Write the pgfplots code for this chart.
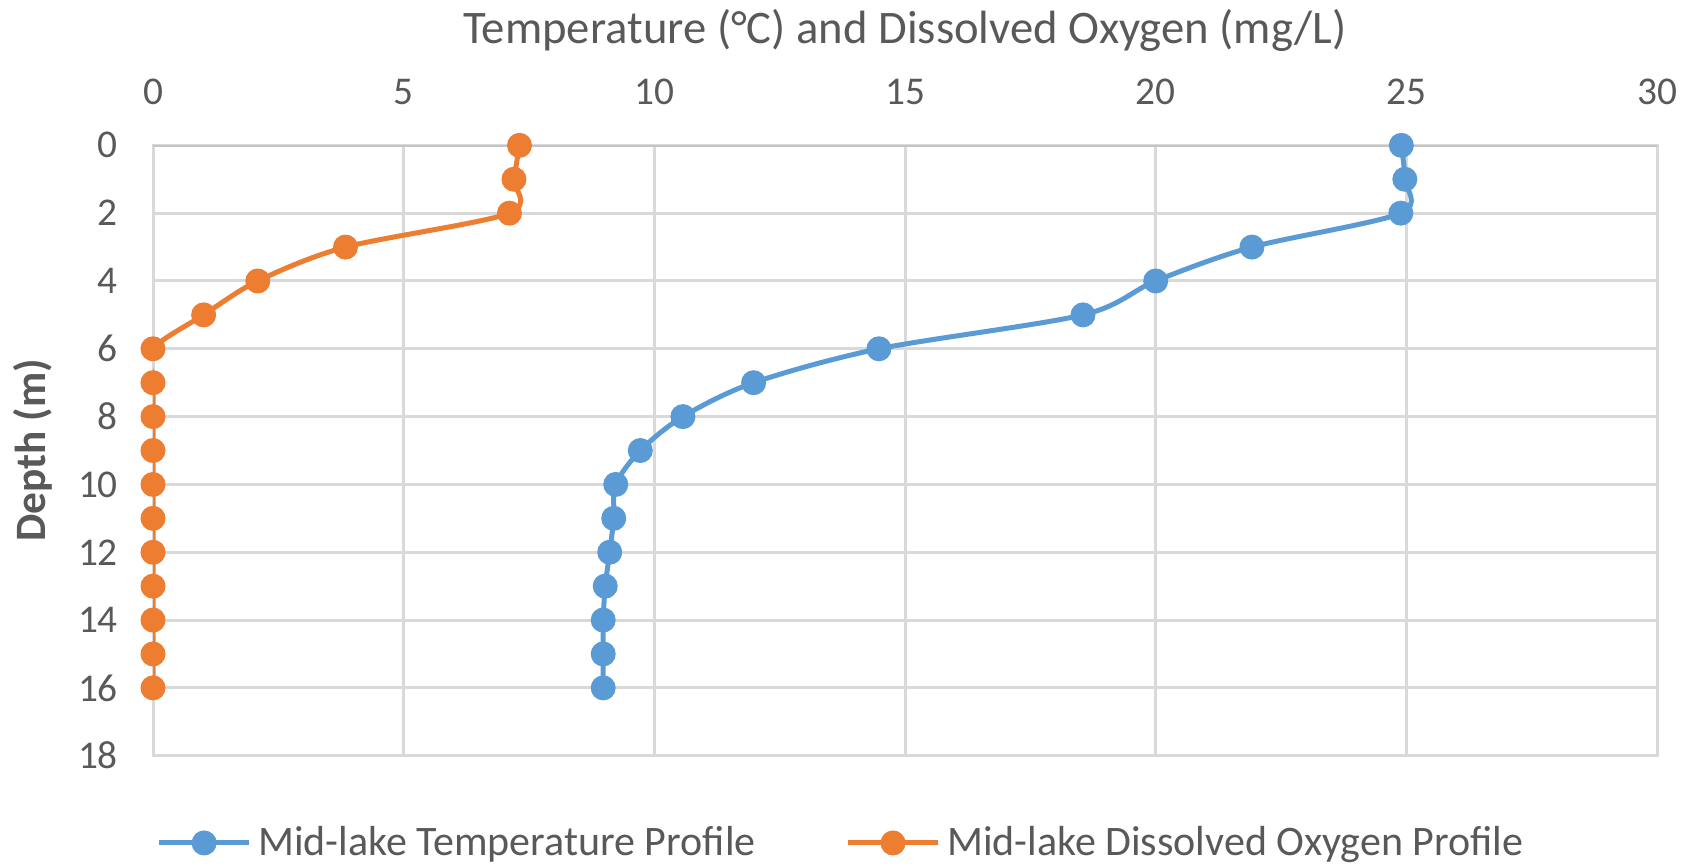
\documentclass[border=0pt]{standalone}
\usepackage{pgfplots}
\pgfplotsset{compat=1.18}
\usepackage{fontspec}
\setmainfont{Carlito}

\definecolor{tempblue}{HTML}{5B9BD5}
\definecolor{doorange}{HTML}{ED7D31}
\definecolor{txtgray}{HTML}{595959}
\definecolor{gridgray}{HTML}{D9D9D9}
\definecolor{axisgray}{HTML}{C4C4C4}

% Depth profile: depth (m), value
\pgfplotstableread{
depth temp
0  24.90
1  24.97
2  24.89
3  21.92
4  20.00
5  18.55
6  14.48
7  11.98
8  10.57
9  9.72
10 9.23
11 9.19
12 9.11
13 9.02
14 8.98
15 8.98
16 8.98
}\temptable

\pgfplotstableread{
depth oxy
0  7.31
1  7.20
2  7.11
3  3.84
4  2.09
5  1.01
6  0.00
7  0.00
8  0.00
9  0.00
10 0.00
11 0.00
12 0.00
13 0.00
14 0.00
15 0.00
16 0.00
}\oxytable

\begin{document}
\begin{tikzpicture}
\path[use as bounding box] (0,0) rectangle (510pt,260.1pt);
\begin{axis}[
  at={(45.9pt,33.4pt)}, anchor=south west,
  scale only axis, width=451.2pt, height=183.1pt,
  xmin=0, xmax=30, ymin=0, ymax=18,
  y dir=reverse,
  xtick={0,5,...,30}, ytick={0,2,...,18},
  xticklabel pos=upper,
  grid=major,
  major grid style={gridgray, line width=0.9pt},
  axis line style={gridgray, line width=0.9pt},
  major tick length=0pt,
  /pgf/number format/assume math mode=true,
  tick label style={font=\fontsize{11.8}{14}\selectfont, text=txtgray},
  xticklabel style={anchor=center, yshift=16pt},
  yticklabel style={anchor=east, xshift=-7pt},
  xlabel={Temperature (°C) and Dissolved Oxygen (mg/L)},
  xlabel style={at={(axis description cs:0.5,1.188)}, anchor=center,
                font=\fontsize{14}{16}\selectfont, text=txtgray},
  ylabel={Depth (m)},
  ylabel style={at={(axis description cs:-0.0798,0.5)}, anchor=center,
                font=\fontsize{13}{15}\selectfont\bfseries, text=txtgray},
  legend columns=2,
  legend style={at={(axis description cs:0.459,-0.143)}, anchor=center,
                draw=none, fill=none, font=\fontsize{12.6}{14}\selectfont,
                text=txtgray,
                /tikz/every even column/.append style={column sep=25pt}},
  legend image code/.code={
    \draw[#1, mark repeat=2, mark phase=2]
      plot coordinates {(0pt,0pt) (13.5pt,0pt) (27pt,0pt)};
  },
]
\draw[axisgray, line width=0.9pt] (axis cs:0,0) -- (axis cs:30,0);

\addplot[tempblue, line width=1.5pt, smooth, tension=0.5, mark=*,
  mark options={fill=tempblue, draw=tempblue, line width=0.5pt, scale=1.75}]
  table[x=temp, y=depth] {\temptable};
\addlegendentry{Mid-lake Temperature Profile}

\addplot[doorange, line width=1.5pt, smooth, tension=0.5, mark=*,
  mark options={fill=doorange, draw=doorange, line width=0.5pt, scale=1.75}]
  table[x=oxy, y=depth] {\oxytable};
\addlegendentry{Mid-lake Dissolved Oxygen Profile}
\end{axis}
\end{tikzpicture}
\end{document}
